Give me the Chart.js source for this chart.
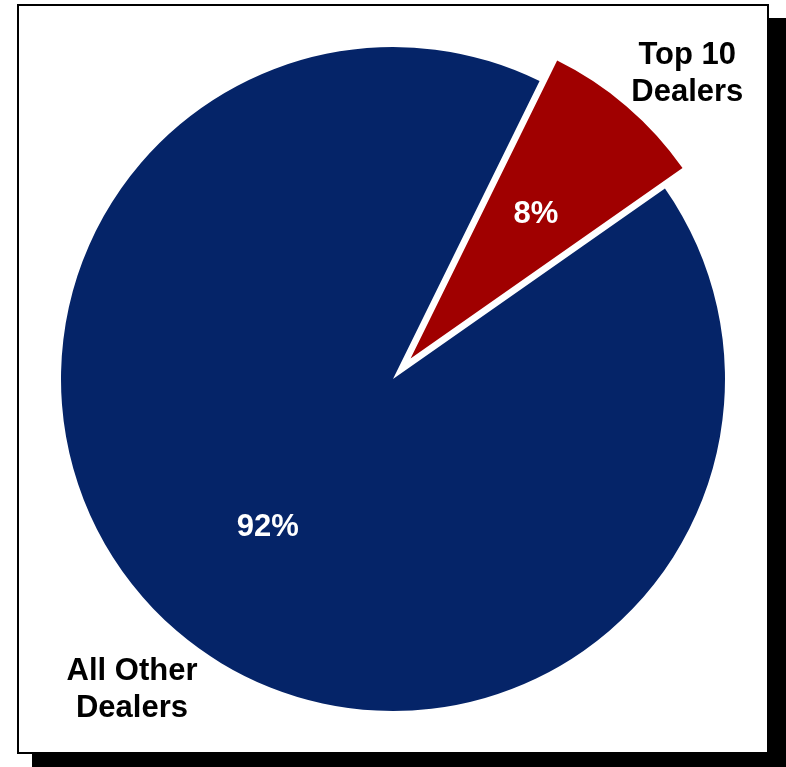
<!DOCTYPE html>
<html lang="en">
<head>
  <meta charset="UTF-8">
  <meta name="viewport" content="width=device-width, initial-scale=1.0">
  <title>Dealer Share</title>
  <script src="https://cdn.jsdelivr.net/npm/chart.js"></script>
  <style>
    html, body { margin: 0; padding: 0; background: #fff; }
    #stage { position: relative; width: 786px; height: 767px; overflow: hidden; }
    /* framed panel with a hard drop shadow */
    .shadow { position: absolute; left: 32px; top: 18px; width: 754px; height: 749px; background: #000; }
    .frame { position: absolute; left: 17px; top: 4px; width: 752px; height: 750px; box-sizing: border-box; border: 2px solid #000; background: #fff; }
    #wrap { position: absolute; left: 0; top: 0; width: 786px; height: 767px; }
  </style>
</head>
<body>
  <div id="stage">
    <div class="shadow"></div>
    <div class="frame"></div>
    <div id="wrap"><canvas id="shareChart"></canvas></div>
  </div>

  <script>
    const categories = [['Top 10', 'Dealers'], ['All Other', 'Dealers']];
    const shares = [8, 92];
    const sliceColors = ['#a00000', '#052468'];

    // pull one slice out along its middle angle, keeping its radius
    const explodeSlice = {
      id: 'explodeSlice',
      afterDatasetUpdate(chart, args, opts) {
        const arc = args.meta.data[opts.index];
        if (!arc) return;
        const mid = (arc.startAngle + arc.endAngle) / 2;
        arc.x += Math.cos(mid) * opts.distance;
        arc.y += Math.sin(mid) * opts.distance;
      }
    };

    // percentage inside each slice, category name outside the rim
    const sliceLabels = {
      id: 'sliceLabels',
      afterDatasetsDraw(chart, args, opts) {
        const ctx = chart.ctx;
        const meta = chart.getDatasetMeta(0);
        const values = chart.data.datasets[0].data;
        const total = values.reduce((a, b) => a + b, 0);
        const capMid = 0.358 * opts.size;
        ctx.save();
        ctx.font = `bold ${opts.size}px ${opts.family}`;
        ctx.textAlign = 'center';
        ctx.textBaseline = 'alphabetic';
        meta.data.forEach((arc, i) => {
          const mid = (arc.startAngle + arc.endAngle) / 2;
          const r = arc.outerRadius;

          ctx.fillStyle = '#fff';
          const pct = Math.round(values[i] / total * 100) + '%';
          ctx.fillText(pct, arc.x + Math.cos(mid) * r * opts.inside, arc.y + Math.sin(mid) * r * opts.inside + capMid);

          const a = mid + (opts.turn[i] || 0) * Math.PI / 180;
          const cx = arc.x + Math.cos(a) * r * opts.outside[i];
          const cy = arc.y + Math.sin(a) * r * opts.outside[i];
          const lines = chart.data.labels[i];
          const first = cy - (opts.lineHeight * (lines.length - 1) - 0.716 * opts.size) / 2;
          ctx.fillStyle = '#000';
          lines.forEach((line, j) => ctx.fillText(line, cx, first + j * opts.lineHeight));
        });
        ctx.restore();
      }
    };

    new Chart(document.getElementById('shareChart'), {
      type: 'pie',
      data: {
        labels: categories,
        datasets: [{
          data: shares,
          backgroundColor: sliceColors,
          borderWidth: 0
        }]
      },
      options: {
        responsive: true,
        maintainAspectRatio: false,
        animation: false,
        events: [],
        rotation: 26.2,
        radius: 332,
        layout: { padding: { left: 0, right: 0, top: 0, bottom: 9 } },
        plugins: {
          legend: { display: false },
          tooltip: { enabled: false },
          explodeSlice: { index: 0, distance: 27 },
          sliceLabels: {
            size: 31,
            family: '"Liberation Sans", Arial, sans-serif',
            lineHeight: 37,
            inside: 0.58,
            outside: [1.202, 1.218],
            turn: [3.3, -0.4]
          }
        }
      },
      plugins: [explodeSlice, sliceLabels]
    });
  </script>
</body>
</html>
